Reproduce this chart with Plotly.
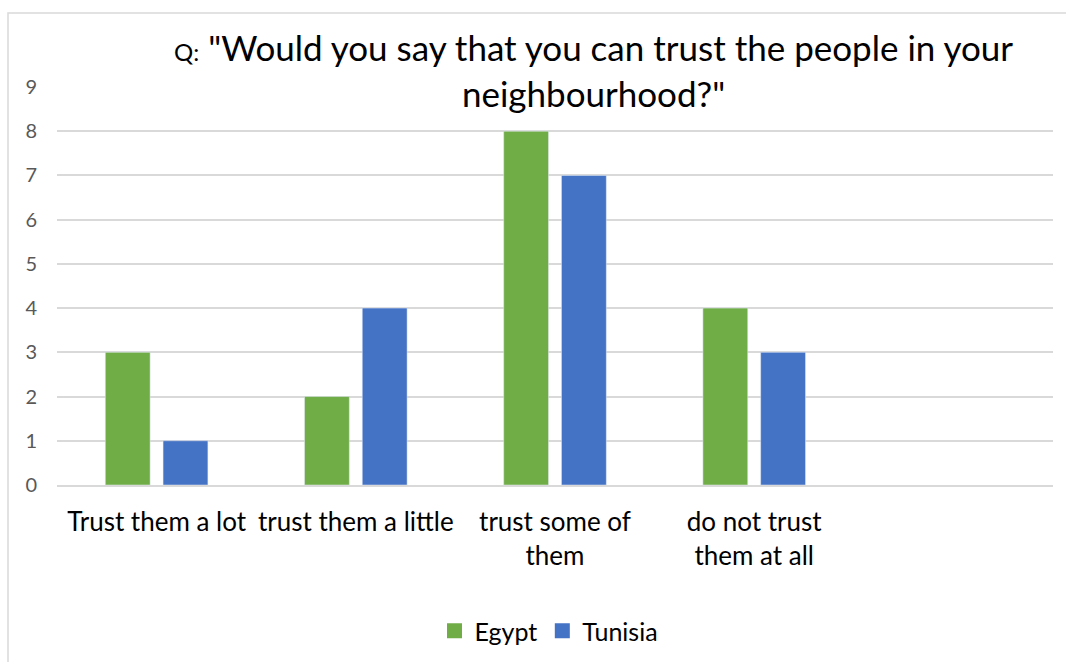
import plotly.graph_objects as go

categories = ["Trust them a lot", "trust them a little", "trust some of<br>them", "do not trust<br>them at all", " "]
egypt = [3, 2, 8, 4, None]
tunisia = [1, 4, 7, 3, None]
y_ticks = list(range(0, 10))
series_names = ["Egypt", "Tunisia"]
series_colors = ["#70AD47", "#4472C4"]

FONT = "Lato, Carlito, Calibri, sans-serif"

# plot-area pixel geometry
L, R, T, B = 57, 1053, 87, 485
W, H = R - L, B - T
def px(x):
    return (x - L) / W
def py(y):
    return (B - y) / H

fig = go.Figure()
for name, vals, col in zip(series_names, [egypt, tunisia], series_colors):
    fig.add_trace(go.Bar(name=name, x=categories, y=vals, marker_color=col, showlegend=False))
# legend entries with larger square swatches
for name, col in zip(series_names, series_colors):
    fig.add_trace(go.Scatter(name=name, x=[None], y=[None], mode="markers",
                             marker=dict(symbol="square", size=15, color=col), showlegend=True))

fig.update_layout(
    width=1066, height=662,
    margin=dict(l=L, r=1066 - R, t=T, b=662 - B, autoexpand=False),
    paper_bgcolor="white", plot_bgcolor="white",
    barmode="group", bargap=0.42, bargroupgap=0.224,
    font=dict(family=FONT, color="#000000"),
    showlegend=True,
    legend=dict(orientation="h", x=px(549), y=py(631), xanchor="center", yanchor="middle",
                font=dict(size=25, color="#000000"), itemwidth=30, traceorder="normal"),
)
fig.update_yaxes(range=[0, 9], tickvals=y_ticks, showgrid=True, gridcolor="#D9D9D9", gridwidth=1.5,
                 zeroline=False, showline=False, tickfont=dict(size=20, color="#595959"),
                 ticks="", ticklabelstandoff=19, fixedrange=True, automargin=False)
fig.update_xaxes(categoryorder="array", categoryarray=categories, showline=True, linecolor="#D9D9D9",
                 linewidth=1.5, tickfont=dict(size=26, color="#000000"), ticks="",
                 ticklabelstandoff=13, tickangle=0, automargin=False)

# title
fig.add_annotation(
    xref="paper", yref="paper", x=px(593), y=py(70), xanchor="center", yanchor="middle",
    text='<span style="font-size:24px">Q:</span> "Would you say that you can trust the people in your<br>neighbourhood?"',
    showarrow=False, align="center", font=dict(size=35, color="#000000", family=FONT),
)

# chart-area frame
fig.add_shape(type="rect", xref="paper", yref="paper",
              x0=px(8), x1=px(1075), y0=py(680), y1=py(13),
              line=dict(color="#D9D9D9", width=1.5), fillcolor="rgba(0,0,0,0)", layer="below")

fig.write_html("out.html")
